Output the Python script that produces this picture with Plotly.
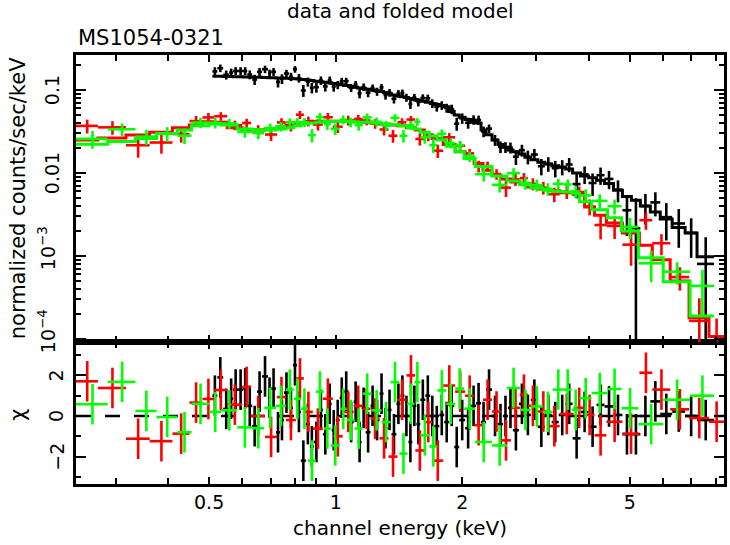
import numpy as np
import plotly.graph_objects as go

# ---------------- data ----------------
# bin edges in keV, folded model (counts/s/keV), chi residual, relative error
black_edges = [0.509, 0.523, 0.540, 0.558, 0.570, 0.586, 0.602, 0.616, 0.633, 0.650,
               0.668, 0.690, 0.702, 0.721, 0.737, 0.753, 0.774, 0.791, 0.809, 0.826,
               0.849, 0.868, 0.887, 0.912, 0.932, 0.957, 0.978, 1.000, 1.022, 1.045,
               1.073, 1.103, 1.127, 1.152, 1.178, 1.210, 1.237, 1.271, 1.299, 1.328,
               1.357, 1.394, 1.425, 1.456, 1.489, 1.521, 1.555, 1.589, 1.633, 1.678,
               1.715, 1.763, 1.811, 1.861, 1.913, 1.966, 2.031, 2.098, 2.156, 2.216,
               2.277, 2.353, 2.431, 2.498, 2.568, 2.638, 2.726, 2.817, 2.910, 3.024,
               3.141, 3.263, 3.390, 3.522, 3.658, 3.821, 3.992, 4.170, 4.356, 4.575,
               4.805, 5.047, 5.301, 5.598, 5.911, 6.310, 6.773, 7.229, 7.933]
black_model = [0.147, 0.147, 0.146, 0.146, 0.145, 0.145, 0.144, 0.144, 0.143, 0.143,
               0.142, 0.141, 0.141, 0.140, 0.140, 0.139, 0.138, 0.137, 0.136,
               0.134, 0.132, 0.130, 0.128, 0.126, 0.124, 0.122, 0.120,
               0.118, 0.116, 0.113, 0.110, 0.108, 0.106, 0.104, 0.102, 0.100,
               0.098, 0.096, 0.093, 0.090, 0.087, 0.085, 0.083, 0.081, 0.079, 0.077, 0.075,
               0.073, 0.071, 0.069, 0.067, 0.065, 0.063,
               0.055, 0.050, 0.047, 0.044, 0.041,
               0.040, 0.033, 0.029,
               0.025, 0.022, 0.0205, 0.019,
               0.018, 0.017, 0.0155, 0.0145,
               0.0135, 0.0128, 0.0122, 0.0117, 0.0112,
               0.0100, 0.0092, 0.0088,
               0.0082, 0.0075, 0.0062,
               0.0052, 0.0047,
               0.0040, 0.0034,
               0.0028, 0.0022,
               0.0019,
               0.00098]
black_chi = [1.0, 1.9, 0.35, 0.85, 1.3, 1.3, 1.36, 0.5, -0.5, 1.2,
             1.95, 0.9, 1.35, -0.8, -0.2, 1.15, 0.4, 2.5, 0.2, -2.2,
             -0.4, -1.5, -1.28, 0.3, -0.9, 0.6, -0.7, -0.2, 0.9, 1.2,
             -0.3, 0.7, -1.28, 0.4, -0.8, 0.5, -0.2, 1.1, -0.6, 0.3,
             -0.9, 0.6, 1.0, 0.0, -1.28, 0.5, -0.4, 0.8, 1.0, 0.0,
             -0.5, 0.05, -0.3, 0.5, -1.53, -0.2, -0.6, 0.5, 0.63, -0.3,
             1.3, 0.0, -0.4, 0.0, 0.4, -0.7, 0.6, 0.05, 0.8, -0.53,
             0.05, -0.3, 0.05, 0.6, -1.1, 0.2, -0.53, 0.55, 0.47, 0.05,
             -0.9, -0.9, 0.0, 0.72, 0.1, 0.22, 0.0, -0.2]
black_relerr = [0.14, 0.13, 0.13, 0.13, 0.13, 0.13, 0.13, 0.13, 0.13, 0.13,
                0.13, 0.13, 0.13, 0.13, 0.13, 0.12, 0.12, 0.12, 0.12, 0.12,
                0.12, 0.12, 0.12, 0.12, 0.12, 0.12, 0.12, 0.11, 0.11, 0.11,
                0.11, 0.11, 0.11, 0.11, 0.11, 0.11, 0.11, 0.11, 0.11, 0.11,
                0.11, 0.11, 0.11, 0.11, 0.11, 0.11, 0.11, 0.12, 0.12, 0.12,
                0.12, 0.12, 0.12, 0.14, 0.14, 0.14, 0.14, 0.14, 0.14, 0.14,
                0.14, 0.15, 0.15, 0.15, 0.16, 0.18, 0.18, 0.19, 0.19, 0.20,
                0.20, 0.21, 0.21, 0.22, 0.24, 0.25, 0.26, 0.27, 0.28, 0.30,
                0.35, 0.60, 0.40, 0.42, 0.50, 0.55, 0.50, 0.90]

red_edges = [0.241, 0.272, 0.317, 0.361, 0.409, 0.449, 0.482, 0.514, 0.552, 0.599,
             0.629, 0.679, 0.725, 0.761, 0.804, 0.840, 0.882, 0.932, 0.984, 1.039,
             1.103, 1.159, 1.210, 1.271, 1.335, 1.402, 1.473, 1.546, 1.624, 1.696,
             1.801, 1.923, 2.031, 2.133, 2.240, 2.353, 2.471, 2.610, 2.741, 2.863,
             3.024, 3.210, 3.408, 3.678, 3.906, 4.125, 4.403, 4.805, 5.272, 5.659,
             6.241, 6.921, 7.719, 8.377]
red_model = [0.025, 0.0264, 0.0287, 0.031, 0.035, 0.038, 0.0415, 0.041, 0.035, 0.033,
             0.033, 0.034, 0.036, 0.038, 0.040, 0.041, 0.042, 0.042, 0.042, 0.042,
             0.042, 0.041, 0.040, 0.039, 0.038, 0.037, 0.035, 0.033, 0.029, 0.026,
             0.022, 0.018, 0.015, 0.013, 0.0108, 0.0094, 0.0085, 0.0078, 0.0073, 0.0068,
             0.0064, 0.0061, 0.0058, 0.0055, 0.0039, 0.0031, 0.0025, 0.0019, 0.00135, 0.0009,
             0.0005, 0.00018, 0.000107]
red_chi = [1.71, 1.38, -1.12, -1.24, -0.87, 0.66, 0.84, 1.28, 0.56, 1.43,
           0.0, -1.03, 0.93, -0.2, 1.85, 0.2, -0.62, 0.85, -1.0, 0.2,
           0.5, 0.36, -0.13, -1.1, -2.0, 0.8, 2.0, -1.7, -0.3, -2.2,
           1.5, 1.2, 1.0, -0.45, 0.8, 0.22, -1.2, 0.4, 1.05, 0.5,
           0.22, -0.5, 0.1, 0.4, 0.05, -0.95, -0.28, -0.87, 2.13, 1.3,
           0.33, -0.1, -0.28]
red_relerr = [0.28, 0.25, 0.22, 0.20, 0.18, 0.17, 0.15, 0.14, 0.14, 0.15,
              0.14, 0.14, 0.14, 0.14, 0.14, 0.14, 0.14, 0.14, 0.14, 0.14,
              0.13, 0.13, 0.13, 0.13, 0.13, 0.13, 0.13, 0.13, 0.13, 0.13,
              0.15, 0.15, 0.15, 0.15, 0.15, 0.15, 0.18, 0.18, 0.18, 0.18,
              0.18, 0.18, 0.18, 0.18, 0.22, 0.25, 0.28, 0.32, 0.47, 0.45,
              0.35, 0.80, 0.90]

green_edges = [0.241, 0.287, 0.334, 0.375, 0.420, 0.454, 0.500, 0.534, 0.583, 0.633,
               0.676, 0.721, 0.761, 0.795, 0.826, 0.859, 0.897, 0.937, 0.973, 1.022,
               1.062, 1.109, 1.159, 1.217, 1.285, 1.350, 1.417, 1.480, 1.538, 1.589,
               1.669, 1.744, 1.831, 1.923, 2.020, 2.145, 2.353, 2.554, 2.741, 2.910,
               3.107, 3.281, 3.483, 3.639, 3.801, 4.058, 4.427, 4.779, 5.243, 6.008,
               6.959, 7.933]
green_model = [0.0222, 0.024, 0.026, 0.030, 0.033, 0.037, 0.039, 0.038, 0.034, 0.033,
               0.033, 0.034, 0.035, 0.037, 0.039, 0.040, 0.041, 0.042, 0.042, 0.042,
               0.042, 0.041, 0.041, 0.040, 0.039, 0.038, 0.037, 0.035, 0.034, 0.031,
               0.028, 0.025, 0.021, 0.018, 0.0150, 0.0120, 0.0092, 0.0080, 0.0072, 0.0066,
               0.0062, 0.0060, 0.0059, 0.0057, 0.0045, 0.0036, 0.0029, 0.0020, 0.00095, 0.00049,
               0.00019]
green_chi = [0.58, 1.68, 0.25, -0.05, -0.8, 0.6, 0.2, 0.28, -0.56, -0.6,
             0.4, 0.5, 1.3, 0.85, 0.36, -2.2, 1.2, -0.62, -1.45, 0.36,
             -0.2, -0.62, 1.1, 0.28, -0.3, 1.67, -1.85, 0.6, 1.67, -0.95,
             -1.5, 1.26, 0.6, 1.35, 0.36, -1.28, -1.45, 1.38, 0.3, 0.47,
             0.2, 1.3, 1.3, 0.3, 0.88, 1.13, 1.33, 0.38, -0.4, 0.8,
             1.0]
green_relerr = [0.28, 0.24, 0.22, 0.20, 0.18, 0.16, 0.15, 0.14, 0.14, 0.14,
                0.14, 0.14, 0.13, 0.13, 0.13, 0.13, 0.13, 0.13, 0.13, 0.13,
                0.13, 0.13, 0.13, 0.13, 0.13, 0.13, 0.13, 0.13, 0.13, 0.14,
                0.15, 0.15, 0.15, 0.15, 0.15, 0.15, 0.15, 0.18, 0.18, 0.18,
                0.18, 0.18, 0.18, 0.18, 0.22, 0.25, 0.28, 0.32, 0.35, 0.40,
                1.30]

x_tick_vals = [0.5, 1, 2, 5]
x_tick_text = ["0.5", "1", "2", "5"]
x_minor_vals = [0.3, 0.4, 0.6, 0.7, 0.8, 0.9, 3, 4, 6, 7, 8]
ytop_tick_vals = [1e-4, 1e-3, 1e-2, 1e-1]
ytop_tick_text = ["10<sup>\u22124</sup>", "10<sup>\u22123</sup>", "0.01", "0.1"]
ytop_minor_vals = [2e-4, 3e-4, 4e-4, 5e-4, 6e-4, 7e-4, 8e-4, 9e-4,
                   2e-3, 3e-3, 4e-3, 5e-3, 6e-3, 7e-3, 8e-3, 9e-3,
                   2e-2, 3e-2, 4e-2, 5e-2, 6e-2, 7e-2, 8e-2, 9e-2, 0.2]
yres_tick_vals = [-2, 0, 2]
yres_tick_text = ["\u22122", "0", "2"]
yres_minor_vals = [-3, -1, 1, 3]

X_RANGE = [0.2412, 8.38]
YTOP_RANGE = [10 ** -4.036, 10 ** -0.578]
YRES_RANGE = [-3.35, 3.645]

# ---------------- figure ----------------
FONT = "DejaVu Sans"
PLOT_W = 651.0
fig = go.Figure()

datasets = [
    ("#000000", black_edges, black_model, black_chi, black_relerr),
    ("#ff0000", red_edges, red_model, red_chi, red_relerr),
    ("#00ff00", green_edges, green_model, green_chi, green_relerr),
]

for color, edges, model, chi, rel in datasets:
    e = np.array(edges)
    m = np.array(model)
    c = np.array(chi)
    r = np.array(rel)
    lo, hi = e[:-1], e[1:]
    cen = (lo + hi) / 2
    err = r * m
    dat = m + c * err
    ex = dict(type="data", symmetric=False, array=hi - cen, arrayminus=cen - lo,
              color=color, thickness=2.6, width=0)
    # data points (top panel)
    fig.add_trace(go.Scatter(
        x=cen, y=dat, mode="markers", marker=dict(size=2, color=color),
        error_x=ex,
        error_y=dict(type="data", array=err, color=color, thickness=2.6, width=0),
        xaxis="x2", yaxis="y2", hoverinfo="skip", showlegend=False))
    # folded model histogram (top panel)
    fig.add_trace(go.Scatter(
        x=e, y=np.append(m, m[-1]), mode="lines",
        line=dict(color=color, width=3, shape="hv"),
        xaxis="x2", yaxis="y2", hoverinfo="skip", showlegend=False))
    # residuals (bottom panel)
    fig.add_trace(go.Scatter(
        x=cen, y=c, mode="markers", marker=dict(size=2, color=color),
        error_x=ex,
        error_y=dict(type="data", array=np.ones_like(c), color=color, thickness=2.6, width=0),
        xaxis="x", yaxis="y", hoverinfo="skip", showlegend=False))

axis_style = dict(showline=True, linecolor="black", linewidth=2.6, mirror="ticks",
                  ticks="inside", tickcolor="black", tickwidth=2,
                  showgrid=False, zeroline=False)

xcommon = dict(type="log", range=[np.log10(X_RANGE[0]), np.log10(X_RANGE[1])],
               tickmode="array", tickvals=x_tick_vals, ticktext=x_tick_text, ticklen=7,
               minor=dict(tickmode="array", tickvals=x_minor_vals, ticks="inside",
                          ticklen=6, tickwidth=2, tickcolor="black", showgrid=False),
               **axis_style)

# rotated y tick labels, placed on the axes' own scales
tick_annotations = []
for val, txt in zip(ytop_tick_vals, ytop_tick_text):
    sup = "<sup>" in txt
    tick_annotations.append(dict(
        text=txt, xref="paper", yref="y2", x=(47 - 76) / PLOT_W if sup else (52 - 76) / PLOT_W,
        y=np.log10(val), yshift=8 if sup else 0,
        xanchor="center", yanchor="middle", textangle=-90, showarrow=False,
        font=dict(family=FONT, size=19)))
for val, txt in zip(yres_tick_vals, yres_tick_text):
    tick_annotations.append(dict(
        text=txt, xref="paper", yref="y", x=(56 - 76) / PLOT_W, y=val,
        xanchor="center", yanchor="middle", textangle=-90, showarrow=False,
        font=dict(family=FONT, size=19)))

fig.update_layout(
    width=730, height=545,
    margin=dict(l=76, r=3, t=55, b=61, pad=0),
    paper_bgcolor="white", plot_bgcolor="white",
    font=dict(family=FONT, size=19, color="black"),
    showlegend=False,
    xaxis=dict(domain=[0, 1], anchor="y", ticklabelstandoff=0, **xcommon),
    xaxis2=dict(domain=[0, 1], anchor="y2", matches="x", showticklabels=False, **xcommon),
    yaxis=dict(domain=[0, 0.331], anchor="x", range=YRES_RANGE,
               tickmode="array", tickvals=yres_tick_vals, ticktext=yres_tick_text,
               showticklabels=False, ticklen=10,
               minor=dict(tickmode="array", tickvals=yres_minor_vals, ticks="inside",
                          ticklen=5, tickwidth=2, tickcolor="black", showgrid=False),
               **axis_style),
    yaxis2=dict(domain=[0.331, 1], anchor="x2", type="log",
                range=[np.log10(YTOP_RANGE[0]), np.log10(YTOP_RANGE[1])],
                tickmode="array", tickvals=ytop_tick_vals, ticktext=ytop_tick_text,
                showticklabels=False, ticklen=10,
                minor=dict(tickmode="array", tickvals=ytop_minor_vals, ticks="inside",
                           ticklen=5, tickwidth=2, tickcolor="black", showgrid=False),
                **axis_style),
    shapes=[dict(type="line", xref="x domain", x0=0, x1=1, yref="y", y0=0, y1=0,
                 line=dict(color="black", width=2.5, dash="15px,14px"), layer="below")],
    annotations=tick_annotations + [
        dict(text="data and folded model", xref="paper", yref="paper",
             x=0.5, y=1.1026, xanchor="center", yanchor="middle", showarrow=False,
             font=dict(family=FONT, size=20)),
        dict(text="MS1054-0321", xref="paper", yref="paper",
             x=0.0, y=1.0396, xanchor="left", yanchor="middle", showarrow=False,
             font=dict(family=FONT, size=21)),
        dict(text="normalized counts/sec/keV", xref="paper", yref="paper",
             x=(17.5 - 76) / PLOT_W, y=0.6655, xanchor="center", yanchor="middle",
             textangle=-90, showarrow=False, font=dict(family=FONT, size=21)),
        dict(text="\u03c7", xref="paper", yref="paper",
             x=(17.5 - 76) / PLOT_W, y=(484 - 415) / 429, xanchor="center", yanchor="middle",
             textangle=-90, showarrow=False, font=dict(family=FONT, size=21)),
        dict(text="channel energy (keV)", xref="paper", yref="paper",
             x=0.5, y=-0.1026, xanchor="center", yanchor="middle", showarrow=False,
             font=dict(family=FONT, size=20)),
    ],
)

fig.write_html("out.html",
               config={"displayModeBar": False, "staticPlot": True},
               post_script="document.body.style.margin='0';"
                           "document.body.style.padding='0';"
                           "document.body.style.overflow='hidden';")
